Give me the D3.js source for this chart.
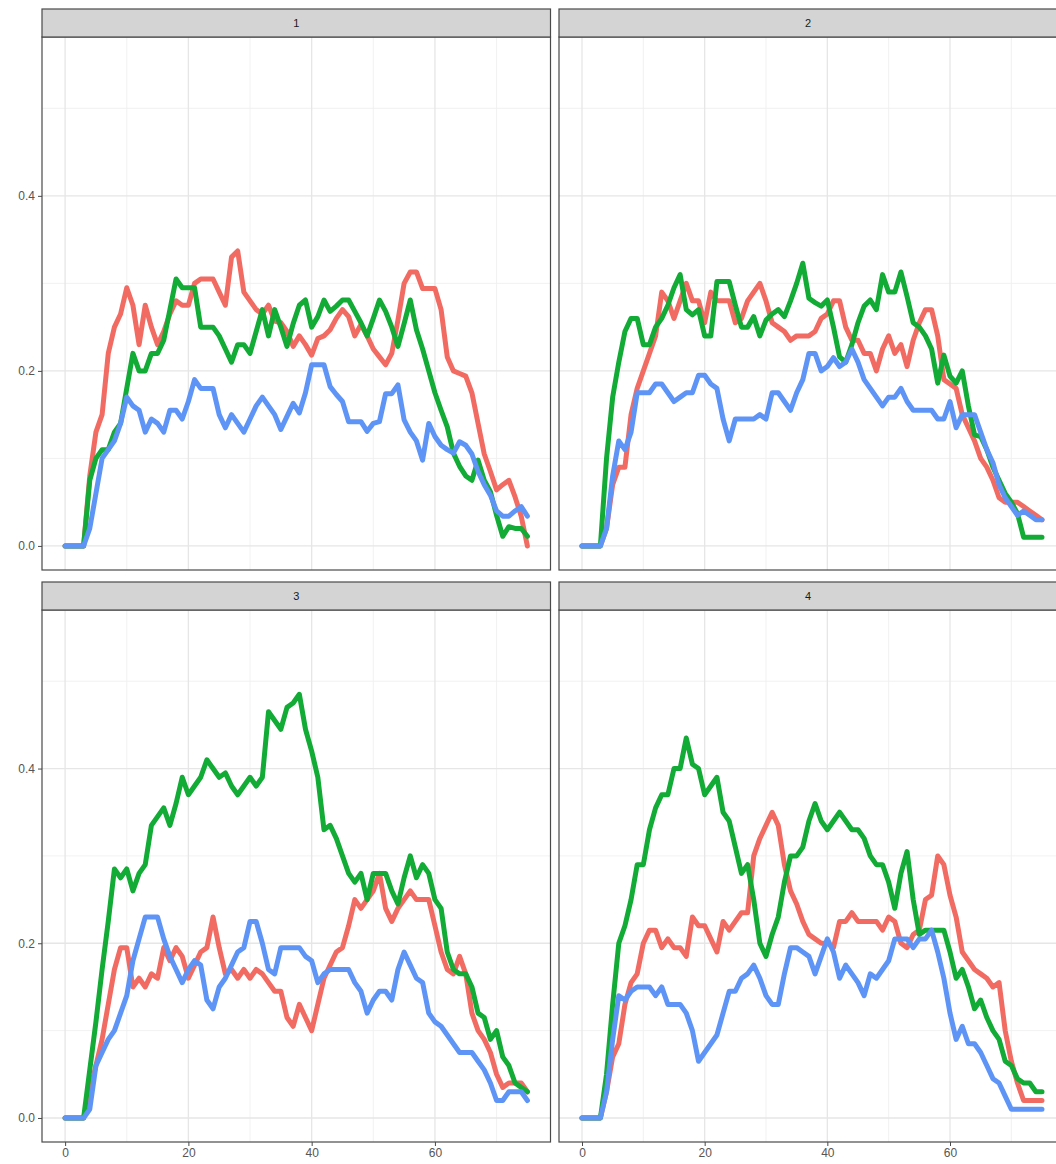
<!DOCTYPE html>
<html lang="en">

<head>
    <meta charset="utf-8">
    <title>facet lines</title>
    <script src="https://cdn.jsdelivr.net/npm/d3@7"></script>
    <style>
        body { margin: 0; background: #fff; }
        svg { display: block; font-family: "Liberation Sans", Arial, sans-serif; }
    </style>
</head>

<body>
    <script>
        // x steps shared by every series
        var steps = [0, 1, 2, 3, 4, 5, 6, 7, 8, 9, 10, 11, 12, 13, 14, 15, 16, 17, 18, 19,
            20, 21, 22, 23, 24, 25, 26, 27, 28, 29, 30, 31, 32, 33, 34, 35, 36, 37, 38, 39,
            40, 41, 42, 43, 44, 45, 46, 47, 48, 49, 50, 51, 52, 53, 54, 55, 56, 57, 58, 59,
            60, 61, 62, 63, 64, 65, 66, 67, 68, 69, 70, 71, 72, 73, 74, 75];

        var panels = ['1', '2', '3', '4'];
        var xTicks = [0, 20, 40, 60];
        var yTicks = [0, 0.2, 0.4];

        // panel 1
        var p1Red = [0, 0, 0, 0, 0.08, 0.13, 0.15, 0.22, 0.25, 0.265, 0.295, 0.275, 0.23, 0.275, 0.25, 0.23, 0.245, 0.265, 0.28, 0.275,
            0.275, 0.3, 0.305, 0.305, 0.305, 0.29, 0.275, 0.33, 0.337, 0.29, 0.28, 0.27, 0.265, 0.275, 0.257, 0.255, 0.245, 0.228, 0.24, 0.23,
            0.218, 0.237, 0.24, 0.247, 0.26, 0.27, 0.262, 0.24, 0.253, 0.24, 0.225, 0.216, 0.207, 0.22, 0.258, 0.3, 0.313, 0.313, 0.294, 0.294,
            0.294, 0.27, 0.216, 0.2, 0.197, 0.194, 0.175, 0.14, 0.105, 0.085, 0.064, 0.07, 0.075, 0.056, 0.034, 0];
        var p1Green = [0, 0, 0, 0, 0.075, 0.1, 0.11, 0.11, 0.13, 0.14, 0.18, 0.22, 0.2, 0.2, 0.22, 0.22, 0.235, 0.27, 0.305, 0.295,
            0.295, 0.295, 0.25, 0.25, 0.25, 0.24, 0.225, 0.21, 0.23, 0.23, 0.22, 0.245, 0.27, 0.24, 0.27, 0.25, 0.228, 0.254, 0.275, 0.281,
            0.25, 0.262, 0.281, 0.268, 0.274, 0.281, 0.281, 0.268, 0.255, 0.24, 0.26, 0.281, 0.268, 0.25, 0.228, 0.254, 0.281, 0.247, 0.225, 0.2,
            0.175, 0.155, 0.136, 0.106, 0.091, 0.08, 0.075, 0.098, 0.075, 0.062, 0.035, 0.011, 0.022, 0.02, 0.02, 0.011];
        var p1Blue = [0, 0, 0, 0, 0.02, 0.06, 0.1, 0.11, 0.12, 0.14, 0.17, 0.16, 0.155, 0.13, 0.145, 0.14, 0.13, 0.155, 0.155, 0.145,
            0.165, 0.19, 0.18, 0.18, 0.18, 0.15, 0.135, 0.15, 0.14, 0.13, 0.145, 0.16, 0.17, 0.16, 0.15, 0.133, 0.148, 0.163, 0.152, 0.175,
            0.207, 0.207, 0.207, 0.182, 0.173, 0.165, 0.142, 0.142, 0.142, 0.131, 0.14, 0.142, 0.174, 0.174, 0.184, 0.144, 0.13, 0.12, 0.098, 0.14,
            0.125, 0.115, 0.11, 0.106, 0.119, 0.115, 0.105, 0.085, 0.07, 0.058, 0.04, 0.034, 0.034, 0.04, 0.045, 0.034];

        // panel 2
        var p2Red = [0, 0, 0, 0, 0.02, 0.07, 0.09, 0.09, 0.15, 0.18, 0.2, 0.22, 0.24, 0.29, 0.28, 0.26, 0.28, 0.3, 0.28, 0.28,
            0.255, 0.29, 0.28, 0.28, 0.28, 0.255, 0.26, 0.28, 0.29, 0.3, 0.28, 0.255, 0.25, 0.245, 0.235, 0.24, 0.24, 0.24, 0.245, 0.26,
            0.265, 0.28, 0.28, 0.25, 0.235, 0.235, 0.22, 0.22, 0.2, 0.225, 0.24, 0.22, 0.23, 0.205, 0.235, 0.255, 0.27, 0.27, 0.24, 0.19,
            0.185, 0.18, 0.15, 0.135, 0.12, 0.1, 0.09, 0.075, 0.055, 0.05, 0.05, 0.05, 0.045, 0.04, 0.035, 0.03];
        var p2Green = [0, 0, 0, 0, 0.1, 0.17, 0.21, 0.245, 0.26, 0.26, 0.23, 0.23, 0.25, 0.26, 0.275, 0.295, 0.31, 0.27, 0.264, 0.27,
            0.24, 0.24, 0.302, 0.302, 0.302, 0.275, 0.25, 0.25, 0.262, 0.24, 0.258, 0.265, 0.27, 0.262, 0.28, 0.3, 0.323, 0.283, 0.278, 0.274,
            0.281, 0.25, 0.216, 0.21, 0.23, 0.255, 0.274, 0.281, 0.27, 0.31, 0.29, 0.29, 0.313, 0.285, 0.255, 0.25, 0.24, 0.225, 0.186, 0.218,
            0.194, 0.186, 0.2, 0.16, 0.127, 0.125, 0.11, 0.09, 0.075, 0.06, 0.05, 0.037, 0.01, 0.01, 0.01, 0.01];
        var p2Blue = [0, 0, 0, 0, 0.02, 0.08, 0.12, 0.11, 0.13, 0.175, 0.175, 0.175, 0.185, 0.185, 0.175, 0.165, 0.17, 0.175, 0.175, 0.195,
            0.195, 0.185, 0.18, 0.145, 0.12, 0.145, 0.145, 0.145, 0.145, 0.15, 0.145, 0.175, 0.175, 0.165, 0.155, 0.175, 0.19, 0.22, 0.22, 0.2,
            0.205, 0.215, 0.205, 0.21, 0.225, 0.21, 0.19, 0.18, 0.17, 0.16, 0.17, 0.17, 0.18, 0.165, 0.155, 0.155, 0.155, 0.155, 0.145, 0.145,
            0.165, 0.135, 0.15, 0.15, 0.15, 0.13, 0.11, 0.095, 0.07, 0.055, 0.045, 0.035, 0.04, 0.035, 0.03, 0.03];

        // panel 3
        var p3Red = [0, 0, 0, 0, 0.03, 0.06, 0.09, 0.13, 0.17, 0.195, 0.195, 0.15, 0.16, 0.15, 0.165, 0.16, 0.195, 0.18, 0.195, 0.185,
            0.16, 0.175, 0.19, 0.195, 0.23, 0.195, 0.165, 0.17, 0.16, 0.17, 0.16, 0.17, 0.165, 0.155, 0.145, 0.145, 0.115, 0.105, 0.13, 0.115,
            0.1, 0.13, 0.16, 0.175, 0.19, 0.195, 0.22, 0.25, 0.24, 0.25, 0.26, 0.28, 0.24, 0.225, 0.24, 0.25, 0.26, 0.25, 0.25, 0.25,
            0.22, 0.19, 0.17, 0.165, 0.185, 0.165, 0.12, 0.1, 0.09, 0.075, 0.05, 0.035, 0.04, 0.04, 0.04, 0.03];
        var p3Green = [0, 0, 0, 0, 0.055, 0.11, 0.17, 0.225, 0.285, 0.275, 0.285, 0.26, 0.28, 0.29, 0.335, 0.345, 0.355, 0.335, 0.36, 0.39,
            0.37, 0.38, 0.39, 0.41, 0.4, 0.39, 0.395, 0.38, 0.37, 0.38, 0.39, 0.38, 0.39, 0.465, 0.455, 0.445, 0.47, 0.475, 0.485, 0.445,
            0.42, 0.39, 0.33, 0.335, 0.32, 0.3, 0.28, 0.27, 0.28, 0.25, 0.28, 0.28, 0.28, 0.26, 0.245, 0.275, 0.3, 0.275, 0.29, 0.28,
            0.25, 0.24, 0.19, 0.17, 0.165, 0.165, 0.15, 0.12, 0.115, 0.09, 0.1, 0.07, 0.06, 0.04, 0.035, 0.03];
        var p3Blue = [0, 0, 0, 0, 0.01, 0.06, 0.075, 0.09, 0.1, 0.12, 0.14, 0.18, 0.205, 0.23, 0.23, 0.23, 0.205, 0.185, 0.17, 0.155,
            0.17, 0.18, 0.175, 0.135, 0.125, 0.15, 0.16, 0.175, 0.19, 0.195, 0.225, 0.225, 0.2, 0.17, 0.165, 0.195, 0.195, 0.195, 0.195, 0.185,
            0.18, 0.155, 0.165, 0.17, 0.17, 0.17, 0.17, 0.155, 0.145, 0.12, 0.135, 0.145, 0.145, 0.135, 0.17, 0.19, 0.175, 0.16, 0.155, 0.12,
            0.11, 0.105, 0.095, 0.085, 0.075, 0.075, 0.075, 0.065, 0.055, 0.04, 0.02, 0.02, 0.03, 0.03, 0.03, 0.02];

        // panel 4
        var p4Red = [0, 0, 0, 0, 0.03, 0.07, 0.085, 0.13, 0.155, 0.165, 0.2, 0.215, 0.215, 0.195, 0.205, 0.195, 0.195, 0.185, 0.23, 0.22,
            0.22, 0.205, 0.19, 0.225, 0.215, 0.225, 0.235, 0.235, 0.3, 0.32, 0.335, 0.35, 0.335, 0.29, 0.26, 0.245, 0.225, 0.21, 0.205, 0.2,
            0.2, 0.195, 0.225, 0.225, 0.235, 0.225, 0.225, 0.225, 0.225, 0.215, 0.23, 0.225, 0.2, 0.195, 0.21, 0.215, 0.25, 0.255, 0.3, 0.29,
            0.255, 0.23, 0.19, 0.18, 0.17, 0.165, 0.16, 0.15, 0.155, 0.1, 0.065, 0.04, 0.02, 0.02, 0.02, 0.02];
        var p4Green = [0, 0, 0, 0, 0.05, 0.13, 0.2, 0.22, 0.25, 0.29, 0.29, 0.33, 0.355, 0.37, 0.37, 0.4, 0.4, 0.435, 0.405, 0.4,
            0.37, 0.38, 0.39, 0.35, 0.34, 0.31, 0.28, 0.29, 0.25, 0.2, 0.185, 0.21, 0.23, 0.27, 0.3, 0.3, 0.31, 0.34, 0.36, 0.34,
            0.33, 0.34, 0.35, 0.34, 0.33, 0.33, 0.32, 0.3, 0.29, 0.29, 0.27, 0.24, 0.28, 0.305, 0.25, 0.21, 0.215, 0.215, 0.215, 0.215,
            0.19, 0.16, 0.17, 0.15, 0.125, 0.135, 0.115, 0.1, 0.09, 0.065, 0.06, 0.045, 0.04, 0.04, 0.03, 0.03];
        var p4Blue = [0, 0, 0, 0, 0.03, 0.09, 0.14, 0.135, 0.145, 0.15, 0.15, 0.15, 0.14, 0.15, 0.13, 0.13, 0.13, 0.12, 0.1, 0.065,
            0.075, 0.085, 0.095, 0.12, 0.145, 0.145, 0.16, 0.165, 0.175, 0.16, 0.14, 0.13, 0.13, 0.165, 0.195, 0.195, 0.19, 0.185, 0.165, 0.185,
            0.205, 0.19, 0.16, 0.175, 0.165, 0.155, 0.14, 0.165, 0.16, 0.17, 0.18, 0.205, 0.205, 0.205, 0.195, 0.205, 0.205, 0.215, 0.19, 0.16,
            0.12, 0.09, 0.105, 0.085, 0.085, 0.075, 0.06, 0.045, 0.04, 0.025, 0.01, 0.01, 0.01, 0.01, 0.01, 0.01];

        var panelSeries = [
            [p1Red, p1Green, p1Blue],
            [p2Red, p2Green, p2Blue],
            [p3Red, p3Green, p3Blue],
            [p4Red, p4Green, p4Blue]
        ];
        var colors = ['#F16B63', '#12AB35', '#5E94F6'];

        var svgWidth = 1056, svgHeight = 1164;
        var svg = d3.select('body')
            .append('svg')
            .attr('width', svgWidth)
            .attr('height', svgHeight);

        // panel boxes [left, right] and [top, bottom] of plotting area
        var cols = [[42, 550.5], [559, 1065]];
        var rows = [[37, 570], [610, 1142]];
        var stripH = 28;

        var xDomain = [-3.75, 78.75];
        var yDomain = [-0.0275, 0.5815];

        panels.forEach(function (name, i) {
            var col = cols[i % 2], row = rows[Math.floor(i / 2)];
            var x = d3.scaleLinear().domain(xDomain).range(col);
            var y = d3.scaleLinear().domain(yDomain).range([row[1], row[0]]);
            var g = svg.append('g');

            g.append('rect')
                .attr('x', col[0]).attr('y', row[0])
                .attr('width', col[1] - col[0]).attr('height', row[1] - row[0])
                .attr('fill', '#fff');

            // minor grid
            g.selectAll('.minor-x').data([10, 30, 50, 70]).enter().append('line')
                .attr('x1', d => x(d)).attr('x2', d => x(d))
                .attr('y1', row[0]).attr('y2', row[1])
                .attr('stroke', '#efefef').attr('stroke-width', 0.9);
            g.selectAll('.minor-y').data([0.1, 0.3, 0.5]).enter().append('line')
                .attr('y1', d => y(d)).attr('y2', d => y(d))
                .attr('x1', col[0]).attr('x2', col[1])
                .attr('stroke', '#efefef').attr('stroke-width', 0.9);
            // major grid
            g.selectAll('.major-x').data(xTicks).enter().append('line')
                .attr('x1', d => x(d)).attr('x2', d => x(d))
                .attr('y1', row[0]).attr('y2', row[1])
                .attr('stroke', '#e6e6e6').attr('stroke-width', 1.3);
            g.selectAll('.major-y').data(yTicks).enter().append('line')
                .attr('y1', d => y(d)).attr('y2', d => y(d))
                .attr('x1', col[0]).attr('x2', col[1])
                .attr('stroke', '#e6e6e6').attr('stroke-width', 1.3);

            var line = d3.line()
                .x((d, j) => x(steps[j]))
                .y(d => y(d));

            g.selectAll('path.series')
                .data(panelSeries[i])
                .enter().append('path')
                .attr('class', 'series')
                .attr('d', d => line(d))
                .attr('fill', 'none')
                .attr('stroke', (d, k) => colors[k])
                .attr('stroke-width', 5)
                .attr('stroke-linejoin', 'round')
                .attr('stroke-linecap', 'round');

            // panel border
            g.append('rect')
                .attr('x', col[0]).attr('y', row[0])
                .attr('width', col[1] - col[0]).attr('height', row[1] - row[0])
                .attr('fill', 'none')
                .attr('stroke', '#4a4a4a').attr('stroke-width', 1.2);

            // strip
            g.append('rect')
                .attr('x', col[0]).attr('y', row[0] - stripH)
                .attr('width', col[1] - col[0]).attr('height', stripH)
                .attr('fill', '#d4d4d4')
                .attr('stroke', '#4a4a4a').attr('stroke-width', 1.2);
            g.append('text')
                .attr('x', (col[0] + col[1]) / 2 - (i % 2 ? 4 : 0))
                .attr('y', row[0] - stripH / 2 + 4)
                .attr('text-anchor', 'middle')
                .attr('font-size', 11)
                .attr('fill', '#1a1a1a')
                .text(name);

            // axes: y on left column, x on bottom row
            if (i % 2 === 0) {
                var yAxis = d3.axisLeft(y).tickValues(yTicks).tickFormat(d3.format('.1f')).tickSize(4).tickPadding(3);
                var ya = g.append('g')
                    .attr('transform', `translate(${col[0]},0)`)
                    .call(yAxis);
                ya.select('.domain').remove();
                ya.selectAll('line').attr('stroke', '#4a4a4a');
                ya.selectAll('text').attr('fill', '#555').attr('font-size', 12)
                    .style('font-family', '"Liberation Sans", Arial, sans-serif');
            }
            if (i >= 2) {
                var xAxis = d3.axisBottom(x).tickValues(xTicks).tickFormat(d3.format('d')).tickSize(4).tickPadding(2);
                var xa = g.append('g')
                    .attr('transform', `translate(0,${row[1]})`)
                    .call(xAxis);
                xa.select('.domain').remove();
                xa.selectAll('line').attr('stroke', '#4a4a4a');
                xa.selectAll('text').attr('fill', '#555').attr('font-size', 12)
                    .style('font-family', '"Liberation Sans", Arial, sans-serif');
            }
        });
    </script>
</body>

</html>
